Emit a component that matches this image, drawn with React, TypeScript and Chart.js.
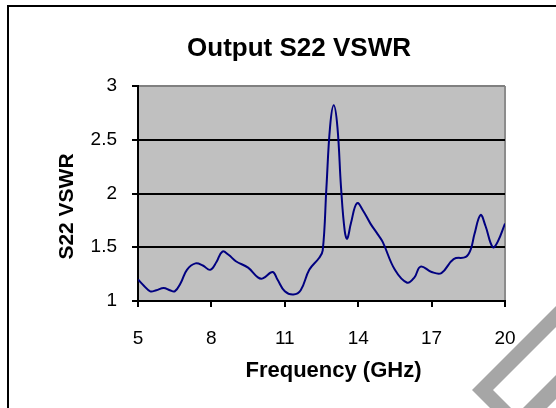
import React, { useEffect, useRef } from "react";
import { Chart, registerables } from "chart.js";

Chart.register(...registerables);

const chartTitle = "Output S22 VSWR";
const xAxisTitle = "Frequency (GHz)";
const yAxisTitle = "S22 VSWR";

const xTickValues = [5, 8, 11, 14, 17, 20];
const yTickValues = [1, 1.5, 2, 2.5, 3];

const frequencyGHz = [
  5.0, 5.25, 5.5, 5.75, 6.05, 6.3, 6.5, 6.75, 7.0, 7.35, 7.65, 7.95, 8.2, 8.45,
  8.7, 9.0, 9.5, 9.9, 10.1, 10.5, 10.7, 11.0, 11.35, 11.65, 12.0, 12.4, 12.55,
  12.7, 12.85, 13.0, 13.15, 13.3, 13.45, 13.55, 13.7, 13.95, 14.2, 14.5, 14.8,
  15.0, 15.5, 16.0, 16.3, 16.55, 17.0, 17.4, 17.9, 18.4, 18.6, 18.75, 19.0, 19.2,
  19.5, 19.7, 20.0,
];

const s22Vswr = [
  1.2, 1.14, 1.09, 1.1, 1.12, 1.1, 1.09, 1.17, 1.29, 1.35, 1.33, 1.29, 1.36, 1.46,
  1.43, 1.37, 1.31, 1.22, 1.21, 1.27, 1.2, 1.09, 1.06, 1.1, 1.29, 1.4, 1.47,
  2.05, 2.62, 2.82, 2.62, 2.05, 1.65, 1.58, 1.72, 1.91, 1.84, 1.72, 1.62,
  1.55, 1.29, 1.17, 1.22, 1.32, 1.27, 1.26, 1.39, 1.41, 1.48, 1.62, 1.8, 1.7,
  1.5, 1.55, 1.72,
];

const FONT = "'Liberation Sans', Arial, Helvetica, sans-serif";

const decorPlugin = {
  id: "decor",
  beforeDraw(chart: any) {
    const { ctx, chartArea: a } = chart;
    ctx.save();
    // watermark (partially visible outline shape)
    ctx.fillStyle = "#a6a6a6";
    ctx.beginPath();
    ctx.moveTo(472, 390);
    ctx.lineTo(518.5, 436.5);
    ctx.lineTo(677.5, 277.5);
    ctx.lineTo(631, 231);
    ctx.closePath();
    ctx.moveTo(493, 390);
    ctx.lineTo(517, 414);
    ctx.lineTo(655.5, 275.5);
    ctx.lineTo(631.5, 251.5);
    ctx.closePath();
    ctx.fill("evenodd");
    // outer frame
    ctx.strokeStyle = "#000";
    ctx.lineWidth = 2;
    ctx.strokeRect(8, 6, 640, 500);
    // plot background
    ctx.fillStyle = "#c0c0c0";
    ctx.fillRect(a.left, a.top, a.right - a.left, a.bottom - a.top);
    ctx.restore();
  },
  afterDraw(chart: any) {
    const { ctx } = chart;
    ctx.save();
    ctx.fillStyle = "#000";
    ctx.textBaseline = "alphabetic";
    ctx.textAlign = "center";
    ctx.font = `bold 26px ${FONT}`;
    ctx.fillText(chartTitle, 299, 56);
    ctx.font = `bold 22px ${FONT}`;
    ctx.fillText(xAxisTitle, 333.5, 377);
    ctx.translate(73, 206.5);
    ctx.rotate(-Math.PI / 2);
    ctx.font = `bold 21px ${FONT}`;
    ctx.fillText(yAxisTitle, 0, 0);
    ctx.restore();
  },
};

export default function App() {
  const canvasRef = useRef<HTMLCanvasElement | null>(null);

  useEffect(() => {
    if (!canvasRef.current) return;
    const points = frequencyGHz.map((f, i) => ({ x: f, y: s22Vswr[i] }));
    const chart = new Chart(canvasRef.current, {
      type: "line",
      data: {
        datasets: [
          {
            label: yAxisTitle,
            data: points,
            borderColor: "#000080",
            borderWidth: 2,
            pointRadius: 0,
            tension: 0.4,
            fill: false,
          },
        ],
      },
      options: {
        responsive: false,
        animation: false,
        devicePixelRatio: 1,
        layout: { padding: { left: 0, top: 86, right: 51, bottom: 0 } },
        plugins: {
          legend: { display: false },
          title: { display: false },
          tooltip: { enabled: false },
        },
        scales: {
          x: {
            type: "linear",
            min: 5,
            max: 20,
            afterBuildTicks: (scale: any) => {
              scale.ticks = xTickValues.map((v) => ({ value: v }));
            },
            afterFit: (scale: any) => {
              scale.height = 107;
            },
            grid: {
              drawOnChartArea: true,
              drawTicks: true,
              tickLength: 6,
              tickColor: "#000",
              tickWidth: 2,
              lineWidth: 2,
              color: (c: any) =>
                c.tick && c.tick.value === 20 ? "#8c8c8c" : "rgba(0,0,0,0)",
            },
            border: { display: true, color: "#000", width: 2 },
            ticks: {
              color: "#000",
              padding: 20,
              maxRotation: 0,
              font: { family: FONT, size: 19 },
              callback: (v: any) => String(v),
            },
          },
          y: {
            type: "linear",
            min: 1,
            max: 3,
            afterBuildTicks: (scale: any) => {
              scale.ticks = yTickValues.map((v) => ({ value: v }));
            },
            afterFit: (scale: any) => {
              scale.width = 138;
            },
            grid: {
              drawOnChartArea: true,
              drawTicks: true,
              tickLength: 6,
              tickColor: "#000",
              tickWidth: 2,
              lineWidth: 2,
              color: (c: any) =>
                c.tick && c.tick.value === 3 ? "#808080" : "#000",
            },
            border: { display: true, color: "#000", width: 2 },
            ticks: {
              color: "#000",
              padding: 15,
              font: { family: FONT, size: 19 },
              callback: (v: any) => String(v),
            },
          },
        },
      },
      plugins: [decorPlugin],
    });
    return () => chart.destroy();
  }, []);

  return (
    <div style={{ position: "absolute", left: 0, top: 0, width: 556, height: 408 }}>
      <canvas ref={canvasRef} width={556} height={408} />
    </div>
  );
}
